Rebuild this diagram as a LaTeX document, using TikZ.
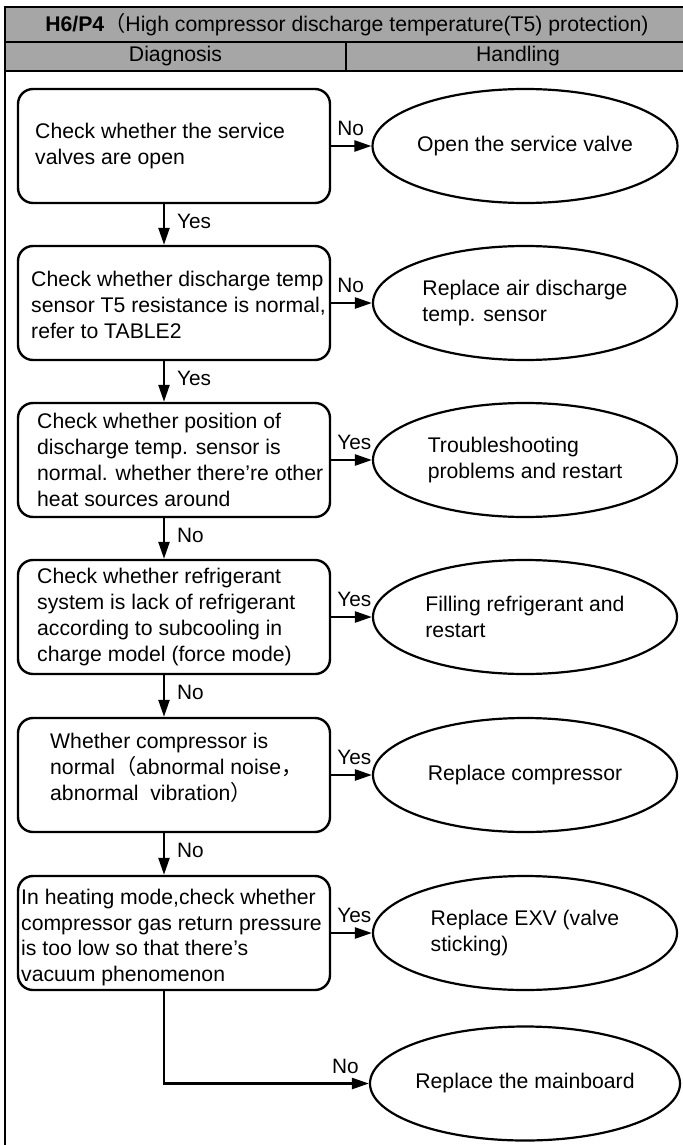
\documentclass[tikz,border=0pt]{standalone}
\usepackage{fontspec}
\setmainfont{Liberation Sans}
\newfontfamily\cjk{Noto Sans CJK SC}
\usepackage{tikz}
\usetikzlibrary{arrows.meta,positioning,shapes.geometric}
\colorlet{hdrgrey}{black!35}
\tikzset{
  frame/.style ={line width=1pt},
  hdrtxt/.style={inner sep=0pt, font=\fontsize{10.6}{12.9}\selectfont},
  chk/.style   ={rectangle, rounded corners=7.5pt, draw, line width=1.2pt,
                 minimum width=156pt, minimum height=57pt, inner sep=0pt},
  chktxt/.style={anchor=west, align=left, inner sep=0pt,
                 font=\fontsize{10.6}{12.9}\selectfont},
  act/.style   ={ellipse, draw, line width=1.1pt, minimum width=152pt,
                 minimum height=57pt, inner sep=0pt, align=left,
                 font=\fontsize{10.6}{13.4}\selectfont},
  arr/.style   ={-{Triangle[length=8.5pt, width=5.5pt]}, line width=1.2pt},
  lbl/.style   ={inner sep=1.5pt, font=\fontsize{10.4}{12}\selectfont},
}
\begin{document}
\begin{tikzpicture}[x=0.5pt, y=-0.5pt]
  \useasboundingbox (0,0) rectangle (682,1145);

  % ---- header rows ----------------------------------------------------------
  \fill[hdrgrey] (5,7) rectangle (690,71);
  \draw[frame, line width=1.3pt] (690,7) -- (5,7) -- (5,1145);
  \draw[frame] (5,42) -- (690,42) (5,71) -- (690,71) (346,42) -- (346,71);
  \node[hdrtxt] (title) at (347,24.5)
    {\textbf{H6/P4}{\cjk （}High compressor discharge temperature(T5) protection)};
  \node[hdrtxt] (diag) at (175.5,56.5) {Diagnosis};
  \node[hdrtxt] (hand) at (518,56.5) {Handling};

  % ---- diagnosis column: checks ---------------------------------------------
  \node[chk] (c1) at (174,146) {};
  \node[chk] (c2) at (174,303) {};
  \node[chk] (c3) at (174,460) {};
  \node[chk] (c4) at (174,617) {};
  \node[chk] (c5) at (174,775) {};
  \node[chk] (c6) at (174,933) {};

  \node[chktxt] (t1) at ([xshift=9pt]c1.west)
    {Check whether the service\\valves are open};
  \node[chktxt] (t2) at ([xshift=7pt,yshift=-1pt]c2.west)
    {Check whether discharge temp\\sensor T5 resistance is normal,\\refer to TABLE2};
  \node[chktxt] (t3) at ([xshift=10pt]c3.west)
    {Check whether position of\\discharge temp. sensor is\\normal. whether there’re other\\heat sources around};
  \node[chktxt] (t4) at ([xshift=10pt]c4.west)
    {Check whether refrigerant\\system is lack of refrigerant\\according to subcooling in\\charge model (force mode)};
  \node[chktxt] (t5) at ([xshift=16.5pt,yshift=3.5pt]c5.west)
    {Whether compressor is\\normal{\cjk （}abnormal noise{\cjk ，}\\abnormal\ \ vibration{\cjk ）}};
  \node[chktxt] (t6) at ([xshift=2pt,yshift=-2.25pt]c6.west)
    {In heating mode,check whether\\compressor gas return pressure\\is too low so that there’s\\vacuum phenomenon};

  % ---- handling column: actions ---------------------------------------------
  \node[act] (e1) at (525,146) {Open the service valve};
  \node[act] (e2) at (525,303) {Replace air discharge\\temp. sensor};
  \node[act] (e3) at (525,460) {Troubleshooting\\problems and restart};
  \node[act] (e4) at (525,617) {Filling refrigerant and\\restart};
  \node[act] (e5) at (525,775) {Replace compressor};
  \node[act] (e6) at (525,933) {Replace EXV (valve\\sticking)};
  \node[act] (e7) at (525,1083.5) {Replace the mainboard};

  % ---- connectors -----------------------------------------------------------
  \foreach \a/\b/\t in {1/2/Yes, 2/3/Yes, 3/4/No, 4/5/No, 5/6/No}
    \draw[arr] ([xshift=-5pt]c\a.south) -- ([xshift=-5pt]c\b.north)
      node[lbl, pos=0.42, right=4.5pt] {\t};
  \foreach \i/\t in {1/No, 2/No, 3/Yes, 4/Yes, 5/Yes, 6/Yes}
    \draw[arr] (c\i.east) -- (e\i.west)
      node[lbl, pos=0, anchor=south west, xshift=1pt, yshift=3pt] {\t};
  \draw[arr] ([xshift=-5pt]c6.south) |- (e7.west)
    node[lbl, pos=1, anchor=south east, xshift=-3pt, yshift=3pt] {No};
\end{tikzpicture}
\end{document}
